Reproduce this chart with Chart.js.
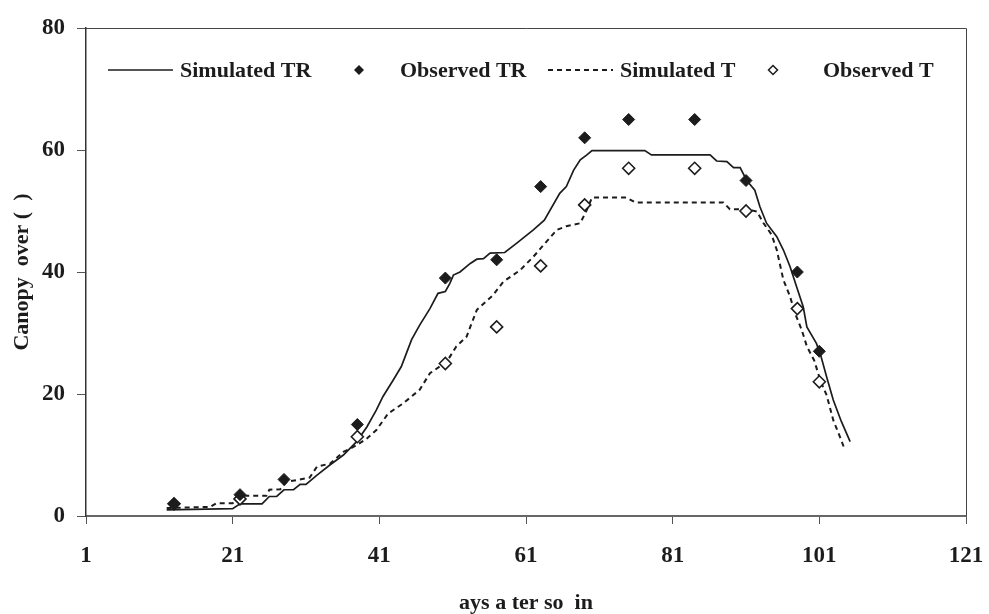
<!DOCTYPE html>
<html lang="en">
<head>
    <meta charset="UTF-8">
    <title>Canopy cover</title>
    <script src="https://cdn.jsdelivr.net/npm/chart.js"></script>
    <style>
        html, body { margin: 0; padding: 0; background: #fff; }
        #wrap { width: 989px; height: 614px; position: relative; }
    </style>
</head>
<body>
    <div id="wrap"><canvas id="chart"></canvas></div>

    <script>
        // Values
        const xTickLabels = [1, 21, 41, 61, 81, 101, 121];
        const yTickLabels = [0, 20, 40, 60, 80];

        const obsDays = [13, 22, 28, 38, 50, 57, 63, 69, 75, 84, 91, 98, 101];
        const obsTR = [2, 3.5, 6, 15, 39, 42, 54, 62, 65, 65, 55, 40, 27];
        const obsT = [2, 2.8, null, 13, 25, 31, 41, 51, 57, 57, 50, 34, 22];

        const simTRDays = [12, 21, 22, 25, 26, 27, 28, 29.3, 30.2, 31, 32.5, 34.3, 36.1, 37.9, 39.3,
            40.6, 41.5, 42.9, 44, 44.7, 45.4, 46.5, 47.9, 49, 50, 50.6, 51.1, 52, 53.4, 54.3, 55.2,
            56.1, 58.1, 59.7, 62, 63.5, 65.6, 66.5, 67.5, 68.4, 69.3, 70, 77.2, 78.1, 86.1, 87, 88.4,
            89.3, 90.2, 91.1, 92.2, 92.9, 93.8, 95.2, 96.1, 97, 97.9, 98.8, 99.3, 100.6, 101.1, 102,
            102.9, 104, 105.2];
        const simTR = [1, 1.2, 2, 2, 3.2, 3.2, 4.3, 4.3, 5.2, 5.2, 6.7, 8.4, 10, 12.2, 14.6,
            17.4, 19.6, 22.3, 24.5, 26.7, 28.9, 31.3, 34, 36.5, 36.8, 38.1, 39.5, 40, 41.4, 42.1, 42.2,
            43.1, 43.2, 44.7, 46.9, 48.5, 52.9, 54, 56.7, 58.4, 59.2, 59.9, 59.9, 59.2, 59.2, 58.2, 58.1,
            57.1, 57.1, 55, 53.4, 50.7, 48, 45.8, 43.6, 40.9, 37.6, 34.3, 31, 28.3, 26.7, 22.8,
            19, 15.5, 12.2];

        const simTDays = [12, 17.9, 18.8, 21, 22.3, 25.6, 26, 27.5, 28.4, 31.5, 32.5, 34.3, 36.1, 37.9,
            39.3, 40.6, 42.2, 44.3, 46.5, 47.9, 50.2, 51.5, 52.9, 53.4, 54.3, 56.5, 57.9, 60.2, 62,
            65.2, 66.5, 68.4, 69.3, 70, 74.7, 75.9, 87.9, 88.8, 91.1, 92.5, 93.4, 94.5, 95.2, 95.6,
            96.1, 97, 97.7, 98.6, 99.3, 100.3, 101.2, 102, 102.9, 103.8, 104.5];
        const simT = [1.3, 1.5, 2.1, 2.1, 3.3, 3.3, 4.3, 4.4, 5.6, 6.3, 8.1, 8.6, 10.5, 11.6,
            12.7, 14.1, 16.8, 18.5, 20.7, 23.4, 25.3, 27.8, 29.4, 31, 33.8, 36.2, 38.4, 40.3, 42.5,
            46.9, 47.5, 48, 50.2, 52.2, 52.2, 51.4, 51.4, 50.3, 50.3, 49.9, 48, 46.1, 43.6, 41.4,
            38.7, 36, 33.2, 30.5, 27.8, 25.5, 22, 19.8, 15.7, 13, 10.8];

        const INK = '#1c1c1c';
        const FONT = '"Liberation Serif", "DejaVu Serif", serif';

        function pairs(xs, ys) {
            return xs.map((x, i) => ({ x: x, y: ys[i] })).filter(p => p.y !== null);
        }

        // Frame (top + right edges) and in-plot legend
        const framePlugin = {
            id: 'frame',
            afterDraw(chart) {
                const ctx = chart.ctx;
                const a = chart.chartArea;
                ctx.save();
                ctx.strokeStyle = '#444';
                ctx.lineWidth = 1;
                ctx.beginPath();
                ctx.moveTo(a.left, a.top + 0.5);
                ctx.lineTo(a.right + 0.5, a.top + 0.5);
                ctx.lineTo(a.right + 0.5, a.bottom);
                ctx.stroke();

                const y = 70;
                ctx.font = 'bold 22px ' + FONT;
                ctx.fillStyle = INK;
                ctx.textBaseline = 'middle';
                ctx.textAlign = 'left';

                // Simulated TR
                ctx.strokeStyle = INK;
                ctx.lineWidth = 1.6;
                ctx.setLineDash([]);
                ctx.beginPath();
                ctx.moveTo(108, y);
                ctx.lineTo(173, y);
                ctx.stroke();
                ctx.fillText('Simulated TR', 180, y + 1);

                // Observed TR
                ctx.beginPath();
                ctx.moveTo(359, y - 5); ctx.lineTo(364, y); ctx.lineTo(359, y + 5); ctx.lineTo(354, y);
                ctx.closePath();
                ctx.fill();
                ctx.fillText('Observed TR', 400, y + 1);

                // Simulated T
                ctx.lineWidth = 2;
                ctx.setLineDash([5, 4]);
                ctx.beginPath();
                ctx.moveTo(548, y);
                ctx.lineTo(613, y);
                ctx.stroke();
                ctx.setLineDash([]);
                ctx.fillText('Simulated T', 620, y + 1);

                // Observed T
                ctx.lineWidth = 1.5;
                ctx.fillStyle = '#fff';
                ctx.beginPath();
                ctx.moveTo(773, y - 4.5); ctx.lineTo(777.5, y); ctx.lineTo(773, y + 4.5); ctx.lineTo(768.5, y);
                ctx.closePath();
                ctx.fill();
                ctx.stroke();
                ctx.fillStyle = INK;
                ctx.fillText('Observed T', 823, y + 1);
                ctx.restore();
            }
        };

        const ctx = document.getElementById('chart').getContext('2d');
        new Chart(ctx, {
            type: 'scatter',
            data: {
                datasets: [
                    {
                        label: 'Observed TR',
                        data: pairs(obsDays, obsTR),
                        pointStyle: 'rectRot',
                        pointRadius: 6,
                        pointBackgroundColor: INK,
                        pointBorderColor: INK,
                        pointBorderWidth: 1,
                        order: 0
                    },
                    {
                        label: 'Observed T',
                        data: pairs(obsDays, obsT),
                        pointStyle: 'rectRot',
                        pointRadius: 6,
                        pointBackgroundColor: '#fff',
                        pointBorderColor: INK,
                        pointBorderWidth: 1.6,
                        order: 1
                    },
                    {
                        label: 'Simulated TR',
                        data: pairs(simTRDays, simTR),
                        showLine: true,
                        pointRadius: 0,
                        borderColor: INK,
                        borderWidth: 1.7,
                        tension: 0,
                        order: 2
                    },
                    {
                        label: 'Simulated T',
                        data: pairs(simTDays, simT),
                        showLine: true,
                        pointRadius: 0,
                        borderColor: INK,
                        borderWidth: 2,
                        borderDash: [5, 4],
                        tension: 0,
                        order: 3
                    }
                ]
            },
            options: {
                responsive: true,
                maintainAspectRatio: false,
                animation: false,
                layout: { padding: { left: 0, right: 23, top: 28, bottom: 0 } },
                plugins: {
                    legend: { display: false },
                    tooltip: { enabled: false }
                },
                scales: {
                    x: {
                        type: 'linear',
                        min: 1,
                        max: 121,
                        afterBuildTicks: s => { s.ticks = xTickLabels.map(v => ({ value: v })); },
                        afterFit: s => { s.height = 98; s.paddingLeft = 0; s.paddingRight = 0; },
                        grid: { drawOnChartArea: false, drawTicks: true, tickLength: 8, color: '#555' },
                        border: { display: true, color: '#666', width: 2 },
                        ticks: {
                            padding: 18,
                            color: INK,
                            maxRotation: 0,
                            font: { family: FONT, size: 23, weight: 'bold' }
                        },
                        title: {
                            display: true,
                            text: 'ays a ter so  in',
                            color: INK,
                            padding: { top: 0, bottom: 0 },
                            font: { family: FONT, size: 22, weight: 'bold', lineHeight: 1 }
                        }
                    },
                    y: {
                        min: 0,
                        max: 80,
                        afterBuildTicks: s => { s.ticks = yTickLabels.map(v => ({ value: v })); },
                        afterFit: s => { s.width = 86; s.paddingTop = 0; s.paddingBottom = 0; },
                        grid: { drawOnChartArea: false, drawTicks: true, tickLength: 9, color: '#555' },
                        border: { display: true, color: '#333', width: 1.5 },
                        ticks: {
                            padding: 12,
                            color: INK,
                            font: { family: FONT, size: 23, weight: 'bold' }
                        },
                        title: {
                            display: true,
                            text: 'Canopy  over (  )',
                            color: INK,
                            padding: { top: 11, bottom: 0 },
                            font: { family: FONT, size: 22, weight: 'bold', lineHeight: 1 }
                        }
                    }
                }
            },
            plugins: [framePlugin]
        });
    </script>
</body>
</html>
